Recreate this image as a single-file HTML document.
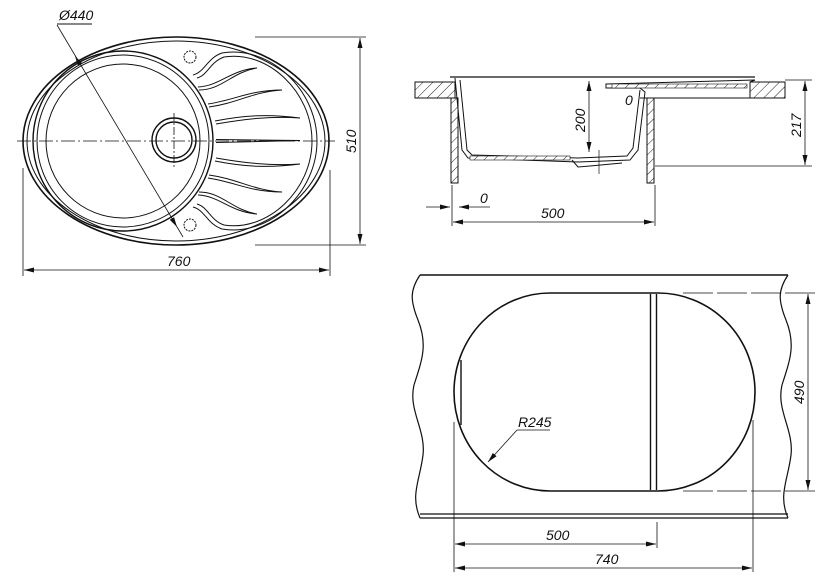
<!DOCTYPE html>
<html><head><meta charset="utf-8"><style>
html,body{margin:0;padding:0;background:#fff;}
svg{display:block;}
text{font-family:"Liberation Sans",sans-serif;font-style:italic;font-size:14px;fill:#111;}
</style></head><body>
<svg width="828" height="588" viewBox="0 0 828 588" xmlns="http://www.w3.org/2000/svg">
<defs>
<pattern id="h" patternUnits="userSpaceOnUse" width="7" height="7" patternTransform="rotate(45)">
<rect width="7" height="7" fill="#fff"/><line x1="0" y1="0" x2="0" y2="7" stroke="#222" stroke-width="1"/>
</pattern>
<marker id="a" markerWidth="10" markerHeight="6" refX="10" refY="3" orient="auto-start-reverse" markerUnits="userSpaceOnUse">
<path d="M0,0.5 L10,3 L0,5.5 Z" fill="#111"/></marker>
</defs>
<g fill="none" stroke="#111" stroke-width="1">
<ellipse cx="176" cy="141" rx="153" ry="104" stroke-width="1.6"/>
<ellipse cx="176" cy="141" rx="149" ry="100"/>
<circle cx="123" cy="141" r="90" stroke-width="1.4"/>
<circle cx="123" cy="141" r="86"/>
<circle cx="123" cy="141" r="77"/>
<circle cx="174" cy="140" r="22" stroke-width="1.4"/>
<circle cx="174" cy="140" r="18" stroke-width="1.4"/>
<circle cx="190" cy="57" r="6" stroke-dasharray="2,1"/>
<circle cx="190" cy="225" r="6" stroke-dasharray="2,1"/>
<path d="M193,75 C205,72 207,58 222,53 C270,45 317,90 317,141 C317,192 270,237 222,229 C207,224 205,210 193,207"/>
<path d="M197,78 C208,75 210,62 224,57 C268,50 312,92 312,141 C312,190 268,232 224,225 C210,220 208,207 197,204"/>
<path d="M198,87 C220,86 230,70 257,68 C232,72 222,90 199,90"/>
<path d="M208,104 C235,100 250,90 282,90 C252,92 238,103 209,107"/>
<path d="M215,121 C245,115 270,114 300,118 C270,116 245,119 216,124"/>
<path d="M216,139.5 L300,140.5 L216,142.5"/>
<path d="M215,161 C245,167 270,168 300,164 C270,166 245,163 216,158"/>
<path d="M208,178 C235,182 250,192 282,192 C252,190 238,179 209,175"/>
<path d="M198,195 C220,196 230,212 257,214 C232,210 222,192 199,192"/>
<line x1="17" y1="141" x2="335" y2="141" stroke-width="0.8" stroke-dasharray="14,3,2,3"/>
<line x1="174" y1="113" x2="174" y2="168" stroke-width="0.8" stroke-dasharray="8,2,2,2"/>
<line x1="57" y1="24" x2="92" y2="24"/>
<line x1="57" y1="25" x2="183" y2="237" stroke-width="0.8"/>
<line x1="75" y1="56" x2="177" y2="227" marker-start="url(#a)" marker-end="url(#a)" stroke-width="0"/>
<line x1="255" y1="37" x2="366" y2="37" stroke-width="0.8"/>
<line x1="255" y1="245" x2="366" y2="245" stroke-width="0.8"/>
<line x1="360" y1="38" x2="360" y2="244" marker-start="url(#a)" marker-end="url(#a)" stroke-width="0.8"/>
<line x1="23" y1="168" x2="23" y2="276" stroke-width="0.8"/>
<line x1="330" y1="170" x2="330" y2="276" stroke-width="0.8"/>
<line x1="24" y1="270" x2="329" y2="270" marker-start="url(#a)" marker-end="url(#a)" stroke-width="0.8"/>

<rect x="415" y="82" width="40" height="16" fill="url(#h)"/>
<rect x="750" y="82" width="35" height="16" fill="url(#h)"/>
<line x1="640" y1="98" x2="750" y2="98"/>
<rect x="451" y="98" width="7" height="85" fill="url(#h)"/>
<rect x="647" y="98" width="7" height="85" fill="url(#h)"/>
<line x1="450" y1="77" x2="755" y2="77" stroke-width="1.3"/>
<path d="M455,78 L462,150 L468,158 L578,162 L630,160 L638,150 L645,92 L640,88 L606,88 L606,84 L755,80 L750,82" stroke-width="1"/>
<path d="M460,80 L467,150 L472,155 L578,158 L627,156 L633,148 L640,90" stroke-width="1"/>
<rect x="470" y="156" width="100" height="4" fill="url(#h)" stroke-width="0.6"/>
<rect x="612" y="84" width="135" height="4" fill="url(#h)" stroke-width="0.6"/>
<path d="M572,160 L578,167 L590,166 L622,163"/>
<line x1="599" y1="150" x2="599" y2="174" stroke-width="0.7"/>
<line x1="589" y1="81" x2="589" y2="152" marker-start="url(#a)" marker-end="url(#a)" stroke-width="0.8"/>
<line x1="655" y1="166" x2="812" y2="166" stroke-width="0.8"/>
<line x1="785" y1="80" x2="812" y2="80" stroke-width="0.8"/>
<line x1="805" y1="81" x2="805" y2="165" marker-start="url(#a)" marker-end="url(#a)" stroke-width="0.8"/>
<line x1="452" y1="185" x2="452" y2="226" stroke-width="0.8"/>
<line x1="655" y1="185" x2="655" y2="226" stroke-width="0.8"/>
<line x1="426" y1="207" x2="450" y2="207" marker-end="url(#a)" stroke-width="0.8"/>
<line x1="490" y1="207" x2="459" y2="207" marker-end="url(#a)" stroke-width="0.8"/>
<line x1="453" y1="222" x2="654" y2="222" marker-start="url(#a)" marker-end="url(#a)" stroke-width="0.8"/>

<line x1="420" y1="275" x2="788" y2="275" stroke-width="1.4"/>
<line x1="420" y1="514" x2="788" y2="514" stroke-width="1.2"/>
<line x1="420" y1="518" x2="788" y2="518" stroke-width="1.2"/>
<path d="M420,275 C410,290 410,300 418,320 C428,345 422,360 414,385 C408,410 426,430 423,455 C420,480 410,495 420,518" stroke-width="1.2"/>
<path d="M788,275 C778,290 778,300 786,320 C796,345 790,360 782,385 C776,410 794,430 791,455 C788,480 778,495 788,518" stroke-width="1.2"/>
<path d="M550,293 L658,293 A97,99 0 0 1 658,491 L550,491 A96,99 0 0 1 550,293 Z" stroke-width="1.6"/>
<line x1="650.5" y1="294" x2="650.5" y2="490" stroke-width="1.4"/>
<line x1="656.5" y1="294" x2="656.5" y2="490" stroke-width="1.4"/>
<line x1="461" y1="360" x2="461" y2="425" stroke-width="1.4"/>
<line x1="683" y1="293" x2="815" y2="293" stroke-width="0.8" stroke-dasharray="30,4"/>
<line x1="683" y1="491" x2="815" y2="491" stroke-width="0.8" stroke-dasharray="30,4"/>
<line x1="808" y1="294" x2="808" y2="490" marker-start="url(#a)" marker-end="url(#a)" stroke-width="0.8"/>
<line x1="454" y1="422" x2="454" y2="572" stroke-width="0.8"/>
<line x1="657" y1="522" x2="657" y2="548" stroke-width="0.8"/>
<line x1="753" y1="420" x2="753" y2="572" stroke-width="0.8"/>
<line x1="455" y1="544" x2="656" y2="544" marker-start="url(#a)" marker-end="url(#a)" stroke-width="0.8"/>
<line x1="455" y1="568" x2="752" y2="568" marker-start="url(#a)" marker-end="url(#a)" stroke-width="0.8"/>
<line x1="550" y1="430" x2="517" y2="430" stroke-width="0.8"/>
<line x1="517" y1="430" x2="488" y2="462" marker-end="url(#a)" stroke-width="0.8"/>
</g>
<text x="59" y="20">Ø440</text>
<text x="167" y="266">760</text>
<text transform="translate(356,153) rotate(-90)">510</text>
<text transform="translate(585,132) rotate(-90)">200</text>
<text transform="translate(801,137) rotate(-90)">217</text>
<text x="625" y="105">0</text>
<text x="480" y="203">0</text>
<text x="541" y="218">500</text>
<text x="518" y="427">R245</text>
<text x="546" y="540">500</text>
<text x="595" y="564">740</text>
<text transform="translate(804,404) rotate(-90)">490</text>
</svg>
</body></html>
